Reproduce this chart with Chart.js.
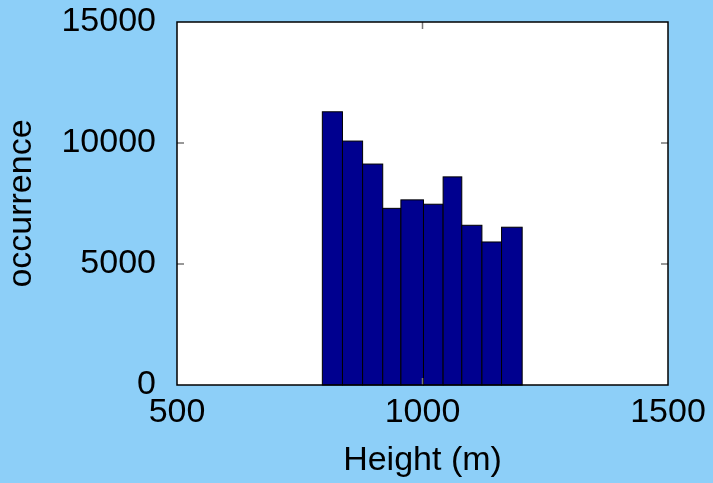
<!DOCTYPE html>
<html>
<head>
<meta charset="utf-8">
<title>Height histogram</title>
<script src="https://cdn.jsdelivr.net/npm/chart.js@4.4.1/dist/chart.umd.min.js"></script>
<style>
  html, body { margin: 0; padding: 0; background: #8dcff8; }
  #wrap { width: 713px; height: 483px; }
</style>
</head>
<body>
<div id="wrap"><canvas id="hist"></canvas></div>
<script>
// bin edges (m) and counts per bin
const binEdges = [796, 837, 878, 919, 956, 1002, 1042, 1080, 1121, 1161, 1203];
const counts = [11290, 10080, 9130, 7300, 7650, 7470, 8600, 6600, 5910, 6520];
const xTicks = [500, 1000, 1500];
const yTicks = [0, 5000, 10000, 15000];

const fonte = { family: "'Liberation Sans', Arial, sans-serif", size: 34 };

// bin centres kept as the dataset, bars are drawn by the plugin below
const pontos = counts.map((c, i) => ({ x: (binEdges[i] + binEdges[i + 1]) / 2, y: c }));

const histPlugin = {
    id: 'histPlugin',
    beforeDraw(chart) {
        const { ctx, chartArea: a } = chart;
        ctx.save();
        ctx.fillStyle = '#ffffff';
        ctx.fillRect(a.left, a.top, a.right - a.left, a.bottom - a.top);
        ctx.restore();
    },
    beforeDatasetsDraw(chart) {
        const { ctx, scales: { x, y } } = chart;
        ctx.save();
        ctx.fillStyle = '#00008f';
        ctx.strokeStyle = '#000000';
        ctx.lineWidth = 1;
        counts.forEach((c, i) => {
            const x0 = x.getPixelForValue(binEdges[i]);
            const x1 = x.getPixelForValue(binEdges[i + 1]);
            const y0 = y.getPixelForValue(0);
            const y1 = y.getPixelForValue(c);
            ctx.fillRect(x0, y1, x1 - x0, y0 - y1);
            ctx.strokeRect(x0, y1, x1 - x0, y0 - y1);
        });
        ctx.restore();
    },
    afterDraw(chart) {
        const { ctx, chartArea: a, scales: { x, y } } = chart;
        ctx.save();
        // ticks pointing inward
        ctx.strokeStyle = '#777777';
        ctx.lineWidth = 1.5;
        ctx.beginPath();
        yTicks.slice(1, -1).forEach(v => {
            const py = y.getPixelForValue(v);
            ctx.moveTo(a.left, py); ctx.lineTo(a.left + 7, py);
            ctx.moveTo(a.right, py); ctx.lineTo(a.right - 7, py);
        });
        xTicks.slice(1, -1).forEach(v => {
            const px = x.getPixelForValue(v);
            ctx.moveTo(px, a.bottom); ctx.lineTo(px, a.bottom - 7);
            ctx.moveTo(px, a.top); ctx.lineTo(px, a.top + 7);
        });
        ctx.stroke();
        // box around the axes
        ctx.strokeStyle = '#000000';
        ctx.lineWidth = 1.5;
        ctx.strokeRect(a.left, a.top, a.right - a.left, a.bottom - a.top);
        ctx.restore();
    }
};

new Chart(document.getElementById('hist'), {
    type: 'scatter',
    data: {
        datasets: [{
            data: pontos,
            pointRadius: 0,
            pointHoverRadius: 0,
            showLine: false
        }]
    },
    options: {
        responsive: true,
        maintainAspectRatio: false,
        animation: false,
        events: [],
        layout: { padding: { top: 22, right: 45, left: 0, bottom: 0 } },
        plugins: {
            legend: { display: false },
            tooltip: { enabled: false }
        },
        scales: {
            x: {
                type: 'linear',
                min: 500,
                max: 1500,
                afterBuildTicks: s => { s.ticks = xTicks.map(v => ({ value: v })); },
                grid: { display: false, drawTicks: false },
                border: { display: false },
                ticks: { color: '#000', font: fonte, padding: 7, maxRotation: 0, callback: v => String(v) },
                title: {
                    display: true,
                    text: 'Height (m)',
                    color: '#000',
                    font: fonte,
                    padding: { top: 0, bottom: 2 }
                },
                afterFit: s => {
                    s.height = 98;
                    s.paddingLeft = 0;
                    s.paddingRight = 0;
                }
            },
            y: {
                min: 0,
                max: 15000,
                afterBuildTicks: s => { s.ticks = yTicks.map(v => ({ value: v })); },
                grid: { display: false, drawTicks: false },
                border: { display: false },
                ticks: { color: '#000', font: fonte, padding: 21, callback: v => String(v) },
                title: {
                    display: true,
                    text: 'occurrence',
                    color: '#000',
                    font: fonte,
                    padding: { top: 1, bottom: 0 }
                },
                afterFit: s => {
                    s.width = 177;
                    s.paddingTop = 0;
                    s.paddingBottom = 0;
                }
            }
        }
    },
    plugins: [histPlugin]
});
</script>
</body>
</html>
